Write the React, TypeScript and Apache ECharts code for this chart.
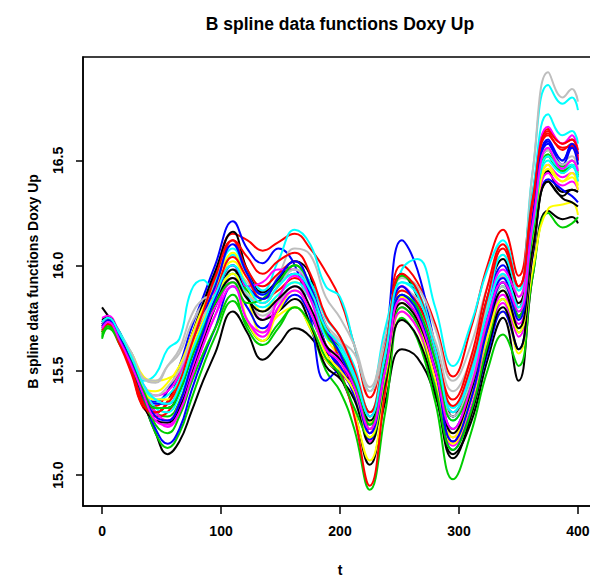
import React, { useEffect, useRef } from "react";
import * as echarts from "echarts";

const chartTitle = "B spline data functions Doxy Up";
const xAxisTitle = "t";
const yAxisTitle = "B spline data functions Doxy Up";

const xTickValues = [0, 100, 200, 300, 400];
const yTickValues = [15.0, 15.5, 16.0, 16.5];

const curveColors = ["#000000", "#FF0000", "#00CD00", "#0000FF", "#00FFFF", "#FF00FF", "#FFFF00", "#BEBEBE"];

const tKnots = [0, 5, 15, 25, 35, 45, 55, 65, 75, 85, 95, 110, 122, 135, 148, 162, 175, 188, 200, 212, 225, 238, 252, 265, 280, 295, 310, 324, 337, 350, 362, 375, 387, 395, 400];

const curve01 = [15.80, 15.76, 15.68, 15.55, 15.35, 15.20, 15.10, 15.16, 15.30, 15.45, 15.58, 15.78, 15.68, 15.55, 15.62, 15.70, 15.66, 15.55, 15.47, 15.30, 15.05, 15.35, 15.60, 15.56, 15.38, 15.10, 15.25, 15.55, 15.75, 15.45, 15.95, 16.26, 16.22, 16.23, 16.20];
const curve02 = [15.70, 15.73, 15.64, 15.50, 15.34, 15.33, 15.40, 15.50, 15.66, 15.80, 15.95, 16.15, 16.12, 16.07, 16.11, 16.15, 16.08, 15.97, 15.84, 15.62, 15.37, 15.65, 16.00, 15.92, 15.72, 15.47, 15.70, 16.00, 16.17, 15.95, 16.35, 16.65, 16.58, 16.60, 16.55];
const curve03 = [15.66, 15.71, 15.62, 15.52, 15.36, 15.20, 15.13, 15.20, 15.36, 15.52, 15.66, 15.83, 15.72, 15.64, 15.72, 15.80, 15.70, 15.50, 15.40, 15.22, 14.93, 15.30, 15.75, 15.65, 15.35, 14.98, 15.20, 15.50, 15.67, 15.52, 15.95, 16.25, 16.18, 16.20, 16.23];
const curve04 = [15.72, 15.74, 15.66, 15.54, 15.38, 15.35, 15.40, 15.52, 15.70, 15.85, 16.00, 16.21, 16.08, 16.01, 16.08, 16.00, 15.75, 15.45, 15.50, 15.42, 15.20, 15.62, 16.12, 15.98, 15.62, 15.28, 15.48, 15.82, 16.00, 15.80, 16.25, 16.60, 16.50, 16.57, 16.50];
const curve05 = [15.70, 15.74, 15.66, 15.58, 15.45, 15.48, 15.60, 15.65, 15.88, 15.93, 15.86, 16.05, 15.97, 15.88, 16.02, 16.17, 16.10, 15.90, 15.85, 15.62, 15.40, 15.70, 15.98, 16.03, 15.80, 15.52, 15.72, 15.98, 16.12, 15.88, 16.45, 16.86, 16.77, 16.80, 16.74];
const curve06 = [15.74, 15.75, 15.66, 15.55, 15.40, 15.28, 15.23, 15.30, 15.46, 15.62, 15.76, 15.94, 15.85, 15.74, 15.83, 15.90, 15.78, 15.60, 15.52, 15.40, 15.16, 15.45, 15.80, 15.72, 15.45, 15.14, 15.32, 15.62, 15.82, 15.66, 16.10, 16.48, 16.42, 16.44, 16.40];
const curve07 = [15.68, 15.72, 15.66, 15.58, 15.47, 15.45, 15.46, 15.50, 15.62, 15.78, 15.92, 16.06, 15.85, 15.68, 15.76, 15.80, 15.70, 15.55, 15.48, 15.30, 15.07, 15.40, 15.78, 15.70, 15.42, 15.15, 15.35, 15.62, 15.78, 15.58, 15.98, 16.27, 16.29, 16.30, 16.24];
const curve08 = [15.72, 15.74, 15.67, 15.58, 15.46, 15.45, 15.52, 15.58, 15.72, 15.82, 15.88, 15.98, 15.92, 15.84, 15.95, 16.08, 16.05, 15.85, 15.75, 15.62, 15.42, 15.66, 15.94, 15.90, 15.70, 15.45, 15.62, 15.90, 16.05, 15.85, 16.45, 16.92, 16.80, 16.84, 16.78];
const curve09 = [15.73, 15.75, 15.65, 15.52, 15.32, 15.30, 15.35, 15.48, 15.66, 15.82, 15.97, 16.16, 15.98, 15.87, 15.93, 16.02, 15.95, 15.60, 15.48, 15.45, 15.28, 15.60, 15.96, 15.85, 15.58, 15.28, 15.50, 15.85, 16.03, 15.82, 16.15, 16.45, 16.35, 16.36, 16.35];
const curve10 = [15.68, 15.72, 15.62, 15.48, 15.32, 15.30, 15.35, 15.45, 15.60, 15.74, 15.88, 16.12, 15.98, 15.90, 15.96, 16.02, 15.88, 15.62, 15.50, 15.28, 14.95, 15.40, 15.90, 15.80, 15.48, 15.16, 15.38, 15.75, 15.95, 15.80, 16.30, 16.63, 16.55, 16.58, 16.52];
const curve11 = [15.65, 15.70, 15.64, 15.54, 15.40, 15.30, 15.28, 15.35, 15.52, 15.66, 15.80, 15.96, 15.88, 15.82, 15.90, 16.00, 15.90, 15.70, 15.60, 15.45, 15.22, 15.55, 15.95, 15.88, 15.60, 15.30, 15.45, 15.72, 15.90, 15.75, 16.20, 16.55, 16.47, 16.50, 16.44];
const curve12 = [15.70, 15.73, 15.64, 15.52, 15.36, 15.22, 15.15, 15.22, 15.40, 15.56, 15.70, 15.90, 15.80, 15.70, 15.78, 15.86, 15.76, 15.60, 15.52, 15.38, 15.17, 15.48, 15.84, 15.75, 15.46, 15.12, 15.30, 15.58, 15.78, 15.60, 16.05, 16.41, 16.36, 16.33, 16.30];
const curve13 = [15.72, 15.75, 15.68, 15.57, 15.42, 15.36, 15.38, 15.46, 15.62, 15.78, 15.92, 16.08, 15.96, 15.86, 15.92, 15.98, 15.92, 15.75, 15.66, 15.52, 15.30, 15.60, 15.92, 15.88, 15.62, 15.32, 15.50, 15.82, 16.05, 15.88, 16.35, 16.72, 16.62, 16.64, 16.58];
const curve14 = [15.75, 15.76, 15.67, 15.56, 15.43, 15.38, 15.40, 15.48, 15.64, 15.78, 15.88, 16.00, 15.90, 15.92, 15.98, 15.98, 15.85, 15.68, 15.62, 15.50, 15.28, 15.58, 15.90, 15.82, 15.58, 15.30, 15.48, 15.78, 15.98, 15.85, 16.30, 16.66, 16.58, 16.62, 16.50];
const curve15 = [15.70, 15.73, 15.66, 15.56, 15.42, 15.40, 15.44, 15.52, 15.66, 15.80, 15.90, 16.02, 15.90, 15.78, 15.86, 15.92, 15.84, 15.66, 15.56, 15.46, 15.25, 15.52, 15.85, 15.78, 15.52, 15.20, 15.40, 15.70, 15.88, 15.70, 16.12, 16.48, 16.40, 16.44, 16.38];
const curve16 = [15.71, 15.73, 15.67, 15.58, 15.46, 15.44, 15.52, 15.60, 15.76, 15.84, 15.86, 15.94, 15.85, 15.76, 15.82, 15.90, 15.84, 15.70, 15.64, 15.58, 15.40, 15.62, 15.88, 15.84, 15.64, 15.40, 15.55, 15.80, 15.95, 15.78, 16.20, 16.55, 16.50, 16.52, 16.46];
const curve17 = [15.72, 15.74, 15.64, 15.50, 15.33, 15.26, 15.25, 15.32, 15.48, 15.64, 15.80, 15.98, 15.85, 15.74, 15.78, 15.84, 15.72, 15.52, 15.46, 15.36, 15.15, 15.44, 15.74, 15.66, 15.40, 15.08, 15.28, 15.60, 15.80, 15.60, 16.05, 16.40, 16.32, 16.30, 16.28];
const curve18 = [15.73, 15.75, 15.66, 15.50, 15.34, 15.28, 15.30, 15.40, 15.58, 15.72, 15.86, 16.04, 15.94, 15.84, 15.88, 15.94, 15.86, 15.72, 15.55, 15.42, 15.22, 15.54, 15.88, 15.82, 15.60, 15.33, 15.52, 15.85, 16.08, 15.90, 16.32, 16.62, 16.56, 16.57, 16.50];
const curve19 = [15.68, 15.72, 15.64, 15.52, 15.37, 15.24, 15.20, 15.28, 15.44, 15.58, 15.70, 15.86, 15.70, 15.62, 15.70, 15.80, 15.72, 15.56, 15.48, 15.32, 15.18, 15.46, 15.80, 15.72, 15.42, 15.12, 15.30, 15.62, 15.84, 15.68, 16.12, 16.52, 16.44, 16.47, 16.42];
const curve20 = [15.70, 15.73, 15.64, 15.53, 15.40, 15.34, 15.34, 15.42, 15.60, 15.76, 15.90, 16.10, 15.96, 15.86, 15.92, 15.96, 15.86, 15.62, 15.50, 15.40, 15.24, 15.55, 15.90, 15.80, 15.52, 15.22, 15.42, 15.75, 15.94, 15.76, 16.22, 16.58, 16.48, 16.56, 16.48];
const curve21 = [15.69, 15.73, 15.65, 15.55, 15.41, 15.32, 15.30, 15.38, 15.54, 15.70, 15.84, 15.96, 15.86, 15.80, 15.86, 15.92, 15.84, 15.66, 15.60, 15.46, 15.26, 15.54, 15.86, 15.80, 15.56, 15.26, 15.45, 15.72, 15.90, 15.74, 16.15, 16.50, 16.44, 16.47, 16.40];
const curve22 = [15.72, 15.74, 15.65, 15.54, 15.40, 15.30, 15.26, 15.34, 15.50, 15.66, 15.80, 15.92, 15.74, 15.68, 15.84, 15.95, 15.84, 15.62, 15.56, 15.44, 15.20, 15.50, 15.78, 15.70, 15.48, 15.18, 15.36, 15.66, 15.86, 15.72, 16.08, 16.44, 16.38, 16.40, 16.36];
const curve23 = [15.71, 15.74, 15.66, 15.54, 15.40, 15.36, 15.36, 15.44, 15.60, 15.74, 15.86, 15.96, 15.74, 15.64, 15.78, 15.88, 15.78, 15.58, 15.50, 15.40, 15.18, 15.48, 15.82, 15.74, 15.46, 15.18, 15.38, 15.66, 15.84, 15.68, 16.10, 16.46, 16.40, 16.42, 16.36];
const curve24 = [15.70, 15.73, 15.65, 15.55, 15.42, 15.38, 15.42, 15.50, 15.64, 15.76, 15.84, 15.92, 15.86, 15.82, 15.90, 15.98, 15.90, 15.72, 15.64, 15.50, 15.30, 15.58, 15.84, 15.78, 15.54, 15.28, 15.44, 15.74, 15.90, 15.74, 16.18, 16.56, 16.48, 16.50, 16.44];
const curve25 = [15.74, 15.75, 15.66, 15.53, 15.38, 15.32, 15.32, 15.40, 15.56, 15.70, 15.82, 15.94, 15.84, 15.78, 15.84, 15.90, 15.80, 15.62, 15.55, 15.42, 15.26, 15.52, 15.82, 15.74, 15.50, 15.20, 15.40, 15.70, 15.88, 15.70, 16.08, 16.40, 16.33, 16.36, 16.35];
const curve26 = [15.69, 15.72, 15.63, 15.49, 15.33, 15.30, 15.34, 15.44, 15.62, 15.78, 15.94, 16.12, 16.04, 15.96, 16.02, 16.06, 15.96, 15.76, 15.66, 15.50, 15.30, 15.60, 15.96, 15.88, 15.60, 15.36, 15.56, 15.90, 16.10, 15.90, 16.30, 16.64, 16.58, 16.60, 16.53];
const curve27 = [15.67, 15.71, 15.64, 15.54, 15.40, 15.32, 15.32, 15.40, 15.56, 15.70, 15.82, 15.92, 15.82, 15.84, 15.92, 16.00, 15.90, 15.68, 15.58, 15.44, 15.24, 15.52, 15.86, 15.80, 15.55, 15.26, 15.42, 15.72, 15.92, 15.76, 16.15, 16.53, 16.45, 16.48, 16.43];
const curve28 = [15.71, 15.74, 15.65, 15.53, 15.38, 15.28, 15.26, 15.34, 15.52, 15.68, 15.84, 16.00, 15.90, 15.84, 15.94, 16.02, 15.90, 15.70, 15.58, 15.42, 15.20, 15.50, 15.86, 15.78, 15.50, 15.16, 15.36, 15.70, 15.92, 15.74, 16.20, 16.59, 16.50, 16.58, 16.53];
const curve29 = [15.73, 15.75, 15.67, 15.56, 15.43, 15.36, 15.34, 15.42, 15.58, 15.72, 15.86, 16.00, 15.90, 15.82, 15.90, 15.96, 15.88, 15.70, 15.62, 15.48, 15.28, 15.58, 15.92, 15.86, 15.60, 15.30, 15.48, 15.78, 15.96, 15.80, 16.18, 16.52, 16.46, 16.48, 16.42];
const curve30 = [15.70, 15.73, 15.64, 15.52, 15.38, 15.26, 15.24, 15.30, 15.46, 15.62, 15.76, 15.90, 15.74, 15.66, 15.80, 15.88, 15.78, 15.60, 15.54, 15.42, 15.22, 15.50, 15.84, 15.76, 15.50, 15.22, 15.42, 15.74, 15.92, 15.78, 16.20, 16.56, 16.46, 16.50, 16.45];

const curves = [
  curve01, curve02, curve03, curve04, curve05, curve06, curve07, curve08, curve09, curve10,
  curve11, curve12, curve13, curve14, curve15, curve16, curve17, curve18, curve19, curve20,
  curve21, curve22, curve23, curve24, curve25, curve26, curve27, curve28, curve29, curve30,
];

const FONT = "'Liberation Sans', Arial, Helvetica, sans-serif";

export default function App() {
  const ref = useRef<HTMLDivElement>(null);
  useEffect(() => {
    if (!ref.current) return;
    const chart = echarts.init(ref.current, undefined, { renderer: "svg" });
    const series = curves.map((c, i) => ({
      type: "line",
      name: "curve" + (i + 1),
      data: tKnots.map((t, j) => [t, c[j]]),
      showSymbol: false,
      symbol: "none",
      smooth: 0.45,
      silent: true,
      lineStyle: { color: curveColors[i % 8], width: 2 },
      itemStyle: { color: curveColors[i % 8] },
      z: 2,
    }));
    chart.setOption({
      animation: false,
      backgroundColor: "#ffffff",
      title: {
        text: chartTitle,
        left: "center",
        top: 10,
        textStyle: { fontFamily: FONT, fontWeight: "bold", fontSize: 17.5, color: "#000" },
      },
      grid: {
        left: 83,
        right: 83,
        top: 57,
        bottom: 70,
        show: true,
        borderColor: "#000",
        borderWidth: 1.5,
        backgroundColor: "transparent",
      },
      xAxis: {
        type: "value",
        min: -16,
        max: 416,
        name: xAxisTitle,
        nameLocation: "middle",
        nameGap: 57,
        nameTextStyle: { fontFamily: FONT, fontWeight: "bold", fontSize: 14, color: "#000" },
        axisLine: { show: true, onZero: false, lineStyle: { color: "#000", width: 1.5 } },
        axisTick: { show: true, length: 8, customValues: xTickValues, lineStyle: { color: "#000", width: 1.5 } },
        axisLabel: {
          customValues: xTickValues,
          margin: 18,
          fontFamily: FONT,
          fontWeight: "bold",
          fontSize: 14,
          color: "#000",
          formatter: (v: number) => String(v),
        },
        splitLine: { show: false },
      },
      yAxis: {
        type: "value",
        min: 14.853,
        max: 16.993,
        name: yAxisTitle,
        nameLocation: "middle",
        nameGap: 43,
        nameRotate: 90,
        nameTextStyle: { fontFamily: FONT, fontWeight: "bold", fontSize: 14, color: "#000" },
        axisLine: { show: true, onZero: false, lineStyle: { color: "#000", width: 1.5 } },
        axisTick: { show: true, length: 7, customValues: yTickValues, lineStyle: { color: "#000", width: 1.5 } },
        axisLabel: {
          customValues: yTickValues,
          rotate: 90,
          margin: 18,
          fontFamily: FONT,
          fontWeight: "bold",
          fontSize: 14,
          color: "#000",
          formatter: (v: number) => v.toFixed(1),
        },
        splitLine: { show: false },
      },
      series,
    });
    return () => chart.dispose();
  }, []);
  return (
    <div style={{ position: "absolute", left: 0, top: 0, width: 590, height: 582, overflow: "hidden", background: "#fff" }}>
      <div ref={ref} style={{ width: 680, height: 582 }} />
    </div>
  );
}
